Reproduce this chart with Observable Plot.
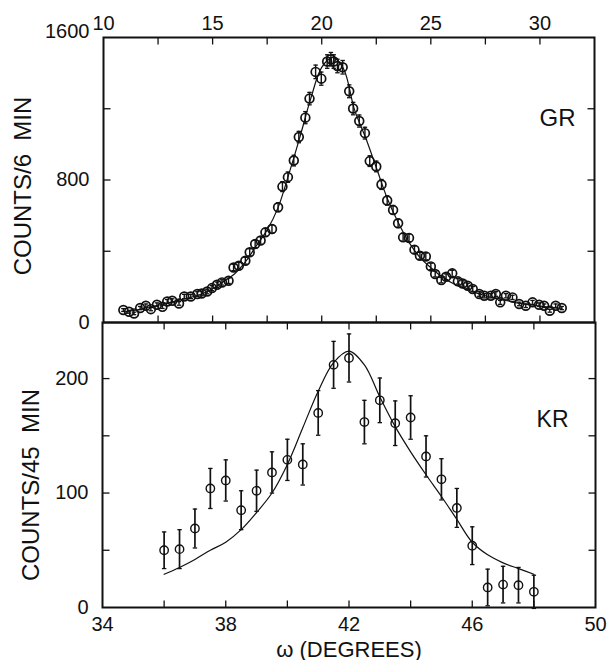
<!DOCTYPE html>
<html><head><meta charset="utf-8">
<script src="https://cdn.jsdelivr.net/npm/d3@7"></script>
<script src="https://cdn.jsdelivr.net/npm/@observablehq/plot@0.6"></script>
<style>
body{margin:0;background:#fff}
#chart svg{display:block}
</style>
</head><body><div id="chart"></div>
<script>
// ---- GR panel (top) ----
const grX = [10.91,11.17,11.4,11.68,11.94,12.17,12.45,12.7,12.92,13.15,13.46,13.7,14.0,14.3,14.5,14.75,14.97,15.2,15.43,15.73,15.96,16.2,16.5,16.7,16.95,17.2,17.42,17.72,18.0,18.2,18.45,18.72,18.95,19.25,19.44,19.72,19.98,20.25,20.42,20.55,20.72,20.96,21.26,21.44,21.72,21.98,22.2,22.5,22.74,23.0,23.27,23.5,23.73,24.0,24.25,24.5,24.77,25.0,25.2,25.48,25.7,25.98,26.24,26.46,26.69,26.92,27.22,27.45,27.75,27.98,28.18,28.44,28.74,29.05,29.35,29.66,29.96,30.19,30.45,30.72,31.0];
const grCounts = [70,60,51,81,94,75,100,88,118,122,107,146,146,160,163,174,193,212,225,234,309,319,347,394,441,460,506,525,647,763,816,909,1041,1150,1257,1407,1369,1465,1478,1465,1440,1433,1298,1201,1131,1063,906,876,775,685,632,557,478,475,409,375,371,315,272,238,257,276,231,219,206,188,160,150,150,160,113,150,141,104,94,113,100,94,66,94,81];
const grErr = [8,8,7,9,10,9,10,9,11,11,10,12,12,13,13,13,14,15,15,15,18,18,19,20,21,21,22,23,25,28,29,30,32,34,35,38,37,38,38,38,38,38,36,35,34,33,30,30,28,26,25,24,22,22,20,19,19,18,16,15,16,17,15,15,14,14,13,12,12,13,11,12,12,10,10,11,10,10,8,10,9];
const grFitX = [11,11.5,12,12.5,13,13.5,14,14.5,15,15.5,16,16.5,17,17.5,18,18.5,19,19.5,20,20.5,21,21.5,22,22.5,23,23.5,24,24.5,25,25.5,26,26.5,27,27.5,28,28.5,29,29.5,30,30.5,31];
const grFitY = [60,70,84,97,112,126,141,160,190,230,272,340,430,520,645,836,1041,1258,1432,1488,1425,1195,1041,870,698,563,450,366,308,257,220,192,169,150,135,122,109,100,92,85,79];
const grXLabels = [10,15,20,25,30];
const grXTicks = [12.5,15,17.5,20,22.5,25,27.5,30];
const grYLabels = [0,800];
const grYTopLabel = [1600];
const grYTicks = [400,800,1200];

// ---- KR panel (bottom) ----
const krX = [36,36.5,37,37.5,38,38.5,39,39.5,40,40.5,41,41.5,42,42.5,43,43.5,44,44.5,45,45.5,46,46.5,47,47.5,48];
const krCounts = [50,51,69,104,111,85,102,118,129,125,170,212,218,162,181,161,166,132,112,87,54,17.5,20,19.5,13.7];
const krErr = [16,17,17,17.5,18,17,18,18,18,18,19.5,20.5,21,19,19.5,19.5,19,18,18,17,16.5,16,16,15.5,14.5];
const krFitX = [36,36.5,37,37.5,38,38.5,39,39.5,40,40.5,41,41.5,42,42.5,43,43.5,44,44.5,45,45.5,46,46.5,47,47.5,48];
const krFitY = [29,35,42,50,57,68,83,100,125,157,189,214,224,212,184,158,136,116,97,77,57,46,39,34,29];
const krXLabels = [34,38,42,46,50];
const krXTicks = [36,38,40,42,44,46,48];
const krYLabels = [0,100,200];
const krYTicks = [50,100,150,200];

const gr = grX.map((x,i)=>({x, y:grCounts[i], e:grErr[i]}));
const grFit = grFitX.map((x,i)=>({x, y:grFitY[i]}));
const kr = krX.map((x,i)=>({x, y:krCounts[i], e:krErr[i]}));
const krFit = krFitX.map((x,i)=>({x, y:krFitY[i]}));

const TL = 7;
const seg = (dx, dy) => ({draw(ctx){ ctx.moveTo(0,0); ctx.lineTo(dx,dy); }});
const cap = {draw(ctx){ ctx.moveTo(-2.2,0); ctx.lineTo(2.2,0); }};
const ink = "#111";
const font = "'Liberation Sans', Arial, sans-serif";
const fmt = d => String(d);

function inwardTicks(xt, yt, x0, x1, y0, y1) {
  const o = {stroke: ink, fill: "none", strokeWidth: 1.3};
  return [
    Plot.dot(xt, {...o, x: d=>d, y: ()=>y1, symbol: seg(0, TL)}),
    Plot.dot(xt, {...o, x: d=>d, y: ()=>y0, symbol: seg(0, -TL)}),
    Plot.dot(yt, {...o, x: ()=>x0, y: d=>d, symbol: seg(TL, 0)}),
    Plot.dot(yt, {...o, x: ()=>x1, y: d=>d, symbol: seg(-TL, 0)})
  ];
}

function dataMarks(data, fit, barW, r, sw) {
  return [
    Plot.line(fit, {x:"x", y:"y", curve:"catmull-rom", stroke: ink, strokeWidth: 1.2}),
    Plot.ruleX(data, {x:"x", y1: d=>d.y-d.e, y2: d=>d.y+d.e, stroke: ink, strokeWidth: barW}),
    Plot.dot(data, {x:"x", y: d=>d.y+d.e, symbol: cap, stroke: ink, fill:"none", strokeWidth: 1.3}),
    Plot.dot(data, {x:"x", y: d=>d.y-d.e, symbol: cap, stroke: ink, fill:"none", strokeWidth: 1.3}),
    Plot.dot(data, {x:"x", y:"y", r, stroke: ink, fill: "none", strokeWidth: sw})
  ];
}

const style = {background:"white", overflow:"visible", fontFamily: font, fontSize:"20px", color: ink};

const topPlot = Plot.plot({
  width: 608, height: 322,
  marginTop: 37, marginBottom: 0, marginLeft: 103, marginRight: 14,
  style,
  x: {domain: [10, 32.5]},
  y: {domain: [0, 1600]},
  marks: [
    Plot.axisX({anchor:"top", ticks: grXLabels, tickFormat: fmt, tickSize: 0, tickPadding: 8, label: null}),
    Plot.axisY({anchor:"left", ticks: grYLabels, tickFormat: fmt, tickSize: 0, tickPadding: 14, label: null}),
    Plot.axisY({anchor:"left", ticks: grYTopLabel, tickFormat: fmt, tickSize: 0, tickPadding: 14, label: null, dy: -6}),
    ...inwardTicks(grXTicks, grYTicks, 10, 32.5, 0, 1600),
    ...dataMarks(gr, grFit, 1.4, 4.4, 1.7),
    Plot.frame({stroke: ink, strokeWidth: 2}),
    Plot.text(["GR"], {text: d=>d, frameAnchor:"top-right", textAnchor:"end", lineAnchor:"middle", dx:-19, dy:81, fontSize: 24}),
    Plot.text(["COUNTS/6  MIN"], {text: d=>d, frameAnchor:"left", textAnchor:"middle", lineAnchor:"middle", rotate:-90, dx:-80, dy:6, fontSize: 24})
  ]
});

const botPlot = Plot.plot({
  width: 608, height: 338,
  marginTop: 0, marginBottom: 53, marginLeft: 102, marginRight: 13,
  style,
  x: {domain: [34, 50]},
  y: {domain: [0, 249]},
  marks: [
    Plot.axisX({anchor:"bottom", ticks: krXLabels, tickFormat: fmt, tickSize: 0, tickPadding: 9, label: null}),
    Plot.axisY({anchor:"left", ticks: krYLabels, tickFormat: fmt, tickSize: 0, tickPadding: 14, label: null}),
    ...inwardTicks(krXTicks, krYTicks, 34, 50, 0, 249),
    ...dataMarks(kr, krFit, 1.7, 4.2, 1.4),
    Plot.frame({stroke: ink, strokeWidth: 2}),
    Plot.text(["KR"], {text: d=>d, frameAnchor:"top-right", textAnchor:"end", lineAnchor:"middle", dx:-27, dy:97, fontSize: 23}),
    Plot.text(["COUNTS/45  MIN"], {text: d=>d, frameAnchor:"left", textAnchor:"middle", lineAnchor:"middle", rotate:-90, dx:-71, dy:20, fontSize: 24}),
    Plot.text(["ω (DEGREES)"], {text: d=>d, frameAnchor:"bottom", lineAnchor:"middle", dy: 42, fontSize: 22})
  ]
});

const el = document.getElementById("chart");
el.appendChild(topPlot);
el.appendChild(botPlot);
</script></body></html>
